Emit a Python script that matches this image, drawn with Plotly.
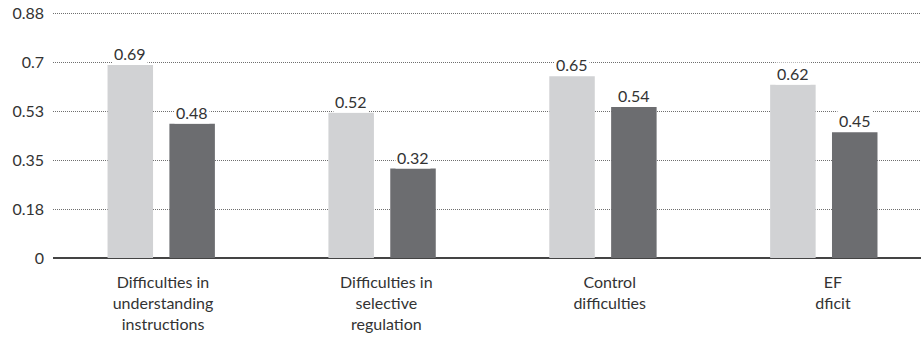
import plotly.graph_objects as go

categories = ["Difficulties in<br>understanding<br>instructions",
              "Difficulties in<br>selective<br>regulation",
              "Control<br>difficulties",
              "EF<br>dficit"]
series_a = [0.69, 0.52, 0.65, 0.62]
series_b = [0.48, 0.32, 0.54, 0.45]
tick_vals = [0, 0.175, 0.35, 0.525, 0.7, 0.875]
tick_text = ["0", "0.18", "0.35", "0.53", "0.7", "0.88"]

x = list(range(len(categories)))
FONT = "Lato, 'Open Sans', sans-serif"
FS = 16
BW = 0.206

fig = go.Figure()
fig.add_trace(go.Bar(x=x, y=series_a, width=BW, offset=-0.243,
                     marker=dict(color="#d1d2d4", line=dict(width=0)), name="A"))
fig.add_trace(go.Bar(x=x, y=series_b, width=BW, offset=0.037,
                     marker=dict(color="#6c6d70", line=dict(width=0)), name="B"))
# invisible helper trace carrying the category label axis
fig.add_trace(go.Scatter(x=x, y=[0] * len(x), xaxis="x2", mode="markers",
                         marker=dict(opacity=0), hoverinfo="skip", showlegend=False))

annotations = []
for i, v in enumerate(series_a):
    annotations.append(dict(x=i - 0.140, y=v, text=f"{v:.2f}", showarrow=False,
                            yanchor="bottom", yshift=0, bgcolor="white", borderpad=1,
                            font=dict(family=FONT, size=FS, color="#333333")))
for i, v in enumerate(series_b):
    annotations.append(dict(x=i + 0.140, y=v, text=f"{v:.2f}", showarrow=False,
                            yanchor="bottom", yshift=0, bgcolor="white", borderpad=1,
                            font=dict(family=FONT, size=FS, color="#333333")))

fig.update_layout(
    width=921, height=339,
    margin=dict(l=53, r=0, t=12, b=81),
    paper_bgcolor="white", plot_bgcolor="white",
    barmode="overlay", showlegend=False,
    font=dict(family=FONT, size=FS, color="#333333"),
    annotations=annotations,
    xaxis=dict(range=[-0.49, 3.44], tickvals=x, showticklabels=False,
               showgrid=False, zeroline=False, showline=False, ticks="",
               automargin=False),
    xaxis2=dict(range=[-0.4926, 3.394], tickvals=x, ticktext=categories,
                overlaying="x", side="bottom",
                showgrid=False, zeroline=False, showline=False, ticks="",
                ticklabelstandoff=13, automargin=False,
                tickfont=dict(family=FONT, size=FS, color="#333333")),
    yaxis=dict(range=[0, 0.88], tickvals=tick_vals, ticktext=tick_text,
               showgrid=True, gridcolor="#6f6f6f", gridwidth=1, griddash="1px,1px",
               zeroline=True, zerolinecolor="#444444", zerolinewidth=1.5,
               showline=False, ticks="", ticklabelstandoff=8, automargin=False,
               tickfont=dict(family=FONT, size=FS, color="#333333")),
)

fig.write_html("out.html", config={"displayModeBar": False},
               post_script="document.body.style.margin='0px';document.body.style.overflow='hidden';")
